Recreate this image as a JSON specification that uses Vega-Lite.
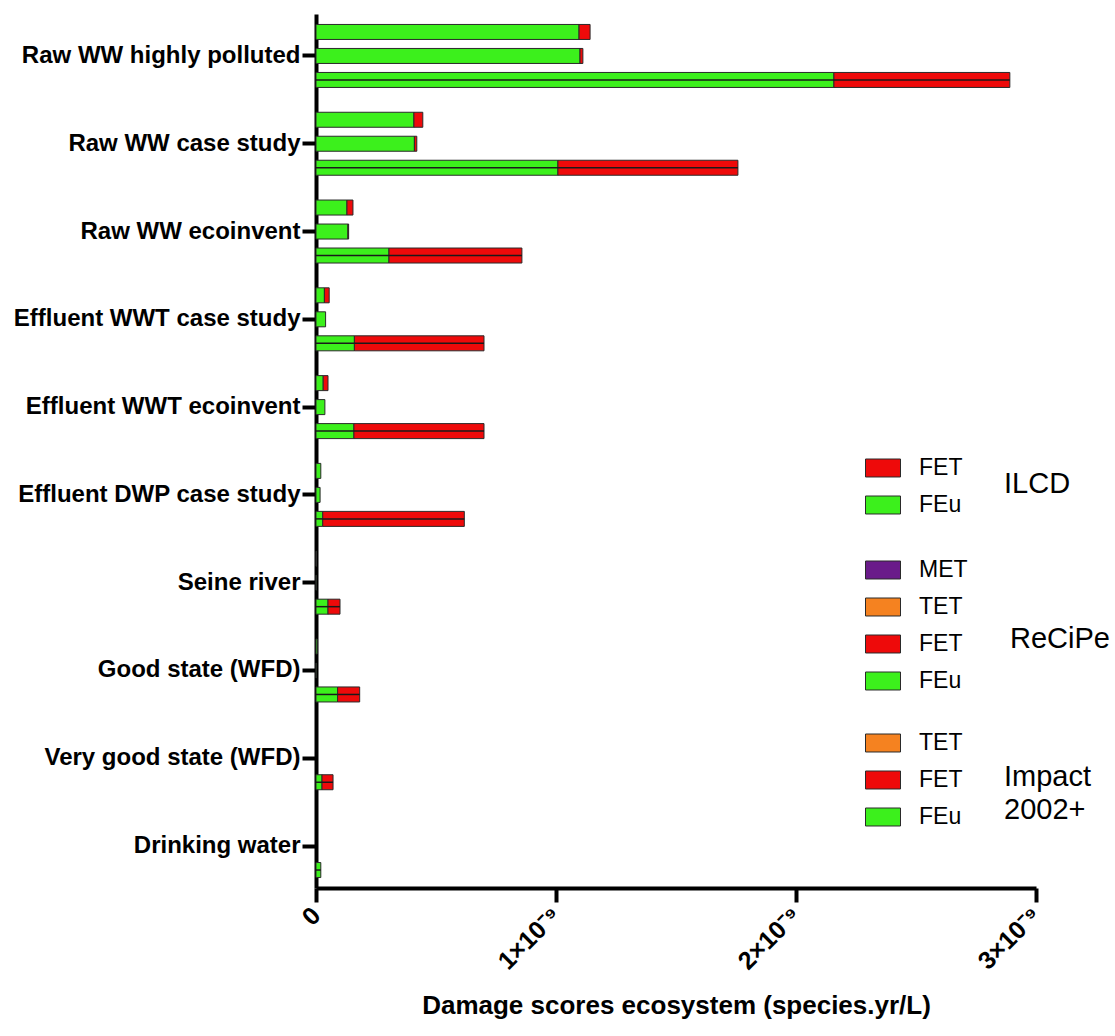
{
  "$schema": "https://vega.github.io/schema/vega-lite/v6.json",
  "autosize": {"type": "none"},
  "padding": {"left": 316, "top": 14, "right": 79, "bottom": 148},
  "width": 720,
  "height": 874,
  "background": "white",
  "data": {
    "values": [
      {"category": "Raw WW highly polluted", "method": "ILCD", "component": "FEu", "order": 1, "value": 1.096e-9},
      {"category": "Raw WW highly polluted", "method": "ILCD", "component": "FET", "order": 2, "value": 0.046e-9},
      {"category": "Raw WW highly polluted", "method": "ReCiPe", "component": "FEu", "order": 1, "value": 1.100e-9},
      {"category": "Raw WW highly polluted", "method": "ReCiPe", "component": "FET", "order": 2, "value": 0.012e-9},
      {"category": "Raw WW highly polluted", "method": "Impact 2002+", "component": "FEu", "order": 1, "value": 2.158e-9},
      {"category": "Raw WW highly polluted", "method": "Impact 2002+", "component": "FET", "order": 2, "value": 0.733e-9},
      {"category": "Raw WW case study", "method": "ILCD", "component": "FEu", "order": 1, "value": 0.408e-9},
      {"category": "Raw WW case study", "method": "ILCD", "component": "FET", "order": 2, "value": 0.037e-9},
      {"category": "Raw WW case study", "method": "ReCiPe", "component": "FEu", "order": 1, "value": 0.410e-9},
      {"category": "Raw WW case study", "method": "ReCiPe", "component": "FET", "order": 2, "value": 0.010e-9},
      {"category": "Raw WW case study", "method": "Impact 2002+", "component": "FEu", "order": 1, "value": 1.008e-9},
      {"category": "Raw WW case study", "method": "Impact 2002+", "component": "FET", "order": 2, "value": 0.750e-9},
      {"category": "Raw WW ecoinvent", "method": "ILCD", "component": "FEu", "order": 1, "value": 0.129e-9},
      {"category": "Raw WW ecoinvent", "method": "ILCD", "component": "FET", "order": 2, "value": 0.025e-9},
      {"category": "Raw WW ecoinvent", "method": "ReCiPe", "component": "FEu", "order": 1, "value": 0.133e-9},
      {"category": "Raw WW ecoinvent", "method": "ReCiPe", "component": "FET", "order": 2, "value": 0.003e-9},
      {"category": "Raw WW ecoinvent", "method": "Impact 2002+", "component": "FEu", "order": 1, "value": 0.304e-9},
      {"category": "Raw WW ecoinvent", "method": "Impact 2002+", "component": "FET", "order": 2, "value": 0.554e-9},
      {"category": "Effluent WWT case study", "method": "ILCD", "component": "FEu", "order": 1, "value": 0.035e-9},
      {"category": "Effluent WWT case study", "method": "ILCD", "component": "FET", "order": 2, "value": 0.020e-9},
      {"category": "Effluent WWT case study", "method": "ReCiPe", "component": "FEu", "order": 1, "value": 0.040e-9},
      {"category": "Effluent WWT case study", "method": "Impact 2002+", "component": "FEu", "order": 1, "value": 0.160e-9},
      {"category": "Effluent WWT case study", "method": "Impact 2002+", "component": "FET", "order": 2, "value": 0.540e-9},
      {"category": "Effluent WWT ecoinvent", "method": "ILCD", "component": "FEu", "order": 1, "value": 0.030e-9},
      {"category": "Effluent WWT ecoinvent", "method": "ILCD", "component": "FET", "order": 2, "value": 0.020e-9},
      {"category": "Effluent WWT ecoinvent", "method": "ReCiPe", "component": "FEu", "order": 1, "value": 0.037e-9},
      {"category": "Effluent WWT ecoinvent", "method": "Impact 2002+", "component": "FEu", "order": 1, "value": 0.158e-9},
      {"category": "Effluent WWT ecoinvent", "method": "Impact 2002+", "component": "FET", "order": 2, "value": 0.542e-9},
      {"category": "Effluent DWP case study", "method": "ILCD", "component": "FEu", "order": 1, "value": 0.020e-9},
      {"category": "Effluent DWP case study", "method": "ReCiPe", "component": "FEu", "order": 1, "value": 0.017e-9},
      {"category": "Effluent DWP case study", "method": "Impact 2002+", "component": "FEu", "order": 1, "value": 0.028e-9},
      {"category": "Effluent DWP case study", "method": "Impact 2002+", "component": "FET", "order": 2, "value": 0.590e-9},
      {"category": "Seine river", "method": "ILCD", "component": "FEu", "order": 1, "value": 0.002e-9},
      {"category": "Seine river", "method": "ReCiPe", "component": "FEu", "order": 1, "value": 0.001e-9},
      {"category": "Seine river", "method": "Impact 2002+", "component": "FEu", "order": 1, "value": 0.050e-9},
      {"category": "Seine river", "method": "Impact 2002+", "component": "FET", "order": 2, "value": 0.050e-9},
      {"category": "Good state (WFD)", "method": "ILCD", "component": "FEu", "order": 1, "value": 0.005e-9},
      {"category": "Good state (WFD)", "method": "ReCiPe", "component": "FEu", "order": 1, "value": 0.001e-9},
      {"category": "Good state (WFD)", "method": "Impact 2002+", "component": "FEu", "order": 1, "value": 0.090e-9},
      {"category": "Good state (WFD)", "method": "Impact 2002+", "component": "FET", "order": 2, "value": 0.092e-9},
      {"category": "Very good state (WFD)", "method": "Impact 2002+", "component": "FEu", "order": 1, "value": 0.025e-9},
      {"category": "Very good state (WFD)", "method": "Impact 2002+", "component": "FET", "order": 2, "value": 0.046e-9},
      {"category": "Drinking water", "method": "Impact 2002+", "component": "FEu", "order": 1, "value": 0.020e-9}
    ]
  },
  "transform": [
    {"stack": "value", "groupby": ["category", "method"], "sort": [{"field": "order", "order": "ascending"}], "as": ["x0", "x1"]}
  ],
  "encoding": {
    "y": {
      "field": "category", "type": "nominal",
      "sort": ["Raw WW highly polluted", "Raw WW case study", "Raw WW ecoinvent", "Effluent WWT case study", "Effluent WWT ecoinvent", "Effluent DWP case study", "Seine river", "Good state (WFD)", "Very good state (WFD)", "Drinking water"],
      "scale": {"domain": ["Raw WW highly polluted", "Raw WW case study", "Raw WW ecoinvent", "Effluent WWT case study", "Effluent WWT ecoinvent", "Effluent DWP case study", "Seine river", "Good state (WFD)", "Very good state (WFD)", "Drinking water"], "paddingInner": 0.18, "paddingOuter": 0.068},
      "axis": {"title": null, "labelFontSize": 24, "labelFontWeight": "bold", "labelPadding": 2, "tickSize": 14, "tickWidth": 4, "domainWidth": 4, "labelLimit": 400}
    },
    "yOffset": {
      "field": "method", "type": "nominal",
      "scale": {"domain": ["ILCD", "ReCiPe", "Impact 2002+"], "paddingInner": 0.375, "paddingOuter": 0.1875}
    },
    "x": {
      "field": "x0", "type": "quantitative",
      "scale": {"domain": [0, 3e-9], "nice": false, "zero": true},
      "axis": {
        "title": "Damage scores ecosystem (species.yr/L)",
        "values": [0, 1e-9, 2e-9, 3e-9],
        "labelExpr": "datum.value == 0 ? '0' : format(round(datum.value * 1e9), 'd') + '×10⁻⁹'",
        "labelAngle": -45, "labelAlign": "right", "labelBaseline": "middle",
        "labelFontSize": 25, "labelFontWeight": "bold", "labelPadding": 9,
        "tickSize": 14, "tickWidth": 4, "domainWidth": 4,
        "titleFontSize": 26, "titleFontWeight": "bold", "titlePadding": 18
      }
    },
    "x2": {"field": "x1"}
  },
  "layer": [
    {
      "transform": [{"filter": "datum.method == 'ILCD'"}],
      "mark": {"type": "bar", "stroke": "#2a2a2a", "strokeWidth": 1},
      "encoding": {
        "color": {
          "field": "component", "type": "nominal",
          "scale": {"domain": ["FET", "FEu"], "range": ["#ee0a0a", "#3cf01c"]},
          "legend": {"title": "ILCD", "orient": "none", "legendX": 549, "legendY": 436}
        }
      }
    },
    {
      "transform": [{"filter": "datum.method == 'ReCiPe'"}],
      "mark": {"type": "bar", "stroke": "#2a2a2a", "strokeWidth": 1},
      "encoding": {
        "color": {
          "field": "component", "type": "nominal",
          "scale": {"domain": ["MET", "TET", "FET", "FEu"], "range": ["#6a1b8a", "#f58220", "#ee0a0a", "#3cf01c"]},
          "legend": {"title": ["", "ReCiPe"], "orient": "none", "legendX": 549, "legendY": 538}
        }
      }
    },
    {
      "transform": [{"filter": "datum.method == 'Impact 2002+'"}],
      "mark": {"type": "bar", "stroke": "#2a2a2a", "strokeWidth": 1},
      "encoding": {
        "color": {
          "field": "component", "type": "nominal",
          "scale": {"domain": ["TET", "FET", "FEu"], "range": ["#f58220", "#ee0a0a", "#3cf01c"]},
          "legend": {"title": ["", "Impact", "2002+"], "orient": "none", "legendX": 549, "legendY": 711}
        }
      }
    },
    {
      "transform": [{"filter": "datum.method == 'Impact 2002+'"}],
      "mark": {"type": "rule", "color": "#1a1a1a", "strokeWidth": 1.5},
      "encoding": {}
    }
  ],
  "resolve": {"scale": {"color": "independent"}, "legend": {"color": "independent"}},
  "config": {
    "font": "Liberation Sans",
    "view": {"stroke": null},
    "axis": {"grid": false, "domainColor": "black", "tickColor": "black", "labelColor": "black", "titleColor": "black"},
    "legend": {
      "labelFont": "Liberation Sans", "titleFont": "Liberation Sans",
      "titleOrient": "right", "titleAnchor": "middle", "titleBaseline": "middle", "titleAngle": 0,
      "titleFontSize": 29, "titleFontWeight": "normal", "titleColor": "black", "titlePadding": 42, "titleLineHeight": 33,
      "labelFontSize": 23, "labelColor": "black", "labelOffset": 18,
      "symbolType": "M-1,-0.514L1,-0.514L1,0.514L-1,0.514Z", "symbolSize": 1225,
      "symbolStrokeColor": "#2a2a2a", "symbolStrokeWidth": 1, "symbolOpacity": 1,
      "rowPadding": 7, "padding": 0
    }
  }
}
